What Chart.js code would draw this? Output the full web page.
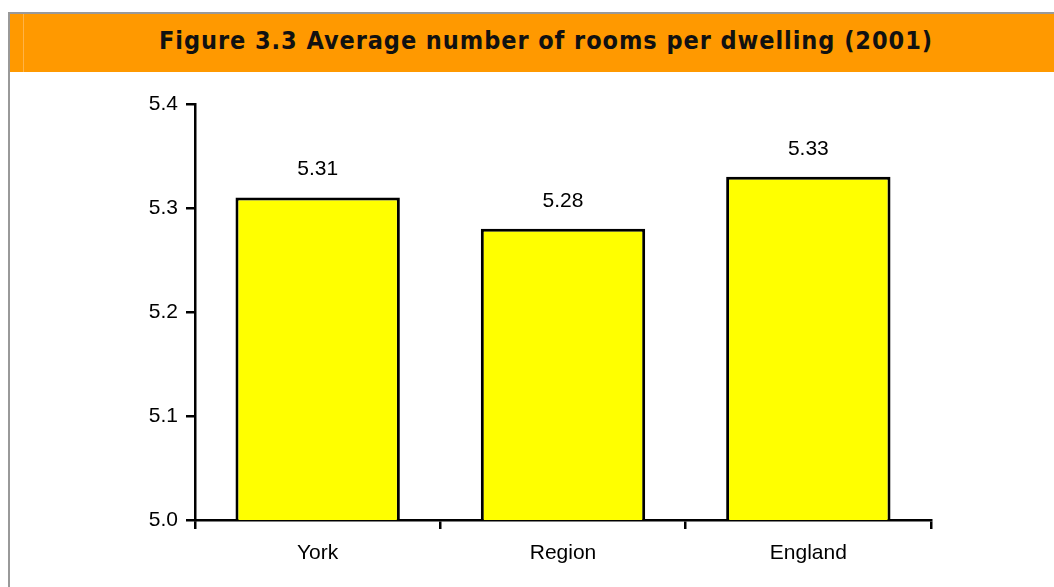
<!DOCTYPE html>
<html>
<head>
<meta charset="utf-8">
<script src="https://cdn.jsdelivr.net/npm/chart.js@4.4.1/dist/chart.umd.min.js"></script>
<style>
  html, body { margin: 0; padding: 0; background: #fff; }
  body { width: 1054px; height: 587px; position: relative; overflow: hidden; }
  #frame {
    position: absolute; left: 8px; top: 12px; right: 0; bottom: 0;
    border-top: 2px solid #999; border-left: 2px solid #999;
  }
  #band {
    position: absolute; left: 0; top: 0; right: 0; height: 58px;
    background: #ff9900;
    display: flex; align-items: center; justify-content: center;
  }
  #band .edge {
    position: absolute; left: 13px; top: 0; bottom: 0; width: 1px; background: #ffb347;
  }
  #title {
    font-family: "DejaVu Sans Condensed", "DejaVu Sans", sans-serif; font-weight: bold; font-size: 25px;
    color: #111; white-space: nowrap; margin-left: 28px; margin-top: -5px;
  }
  #graph { position: absolute; left: 0; top: 0; }
</style>
</head>
<body>
<div id="frame">
  <div id="band"><div class="edge"></div><div id="title">Figure 3.3 Average number of rooms per dwelling (2001)</div></div>
</div>
<canvas id="graph" width="1054" height="587"></canvas>
<script>
// chart data
const categories = ['York', 'Region', 'England'];
const roomValues = [5.31, 5.28, 5.33];
const yMin = 5.0;
const yMax = 5.4;
const yStep = 0.1;

// stretch the title to the width it has in the original
const titleDom = document.getElementById('title');
const targetWidth = 773;
const natural = titleDom.getBoundingClientRect().width;
titleDom.style.letterSpacing = ((targetWidth - natural) / (titleDom.textContent.length - 1)) + 'px';

Chart.defaults.font.family = '"Liberation Sans", Arial, sans-serif';
Chart.defaults.color = '#000';

// draws the value above each bar
const valueLabels = {
    id: 'valueLabels',
    afterDatasetsDraw(chart) {
        const ctx = chart.ctx;
        const meta = chart.getDatasetMeta(0);
        ctx.save();
        ctx.font = '21px "Liberation Sans", Arial, sans-serif';
        ctx.fillStyle = '#000';
        ctx.textAlign = 'center';
        ctx.textBaseline = 'middle';
        meta.data.forEach((bar, i) => {
            ctx.fillText(roomValues[i].toFixed(2), bar.x, bar.y - 28);
        });
        ctx.restore();
    }
};

const ctx = document.getElementById('graph').getContext('2d');
const chart = new Chart(ctx, {
    type: 'bar',
    data: {
        labels: categories,
        datasets: [{
            data: roomValues,
            backgroundColor: '#ffff00',
            borderColor: '#000',
            borderWidth: 3,
            borderSkipped: false,
            barPercentage: 0.67,
            categoryPercentage: 1
        }]
    },
    options: {
        responsive: false,
        animation: false,
        layout: { padding: { left: 0, top: 104, right: 123, bottom: 0 } },
        plugins: {
            legend: { display: false },
            tooltip: { enabled: false }
        },
        scales: {
            x: {
                afterFit: (scale) => { scale.height = 67; },
                border: { display: true, color: '#000', width: 2.5 },
                grid: { drawOnChartArea: false, drawTicks: true, tickLength: 9, color: '#000', lineWidth: 2.5, offset: true },
                ticks: { padding: 12, font: { size: 21 }, color: '#000' }
            },
            y: {
                min: yMin,
                max: yMax,
                afterFit: (scale) => { scale.width = 195; },
                border: { display: true, color: '#000', width: 2.5 },
                grid: { drawOnChartArea: false, drawTicks: true, tickLength: 9, color: '#000', lineWidth: 2.5 },
                ticks: {
                    stepSize: yStep,
                    padding: 8,
                    font: { size: 21 },
                    color: '#000',
                    callback: (v) => Number(v).toFixed(1)
                }
            }
        }
    },
    plugins: [valueLabels]
});
</script>
</body>
</html>
